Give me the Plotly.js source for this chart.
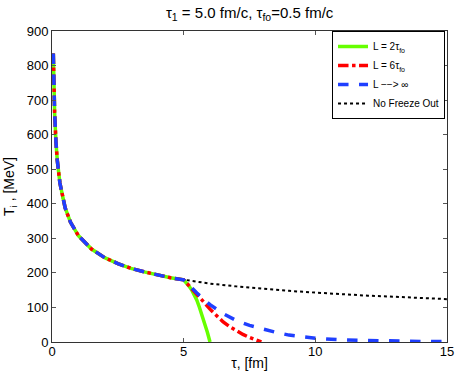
<!DOCTYPE html>
<html>
<head>
<meta charset="utf-8">
<script src="https://cdn.plot.ly/plotly-3.0.1.min.js"></script>
<style>html,body{margin:0;padding:0;background:#fff}#chart{width:458px;height:377px}</style>
</head>
<body>
<div id="chart"></div>
<script>
// Shared early-time cooling (before tau_1 = 5 fm/c)
const tauEarly = [0.05, 0.06, 0.08, 0.1, 0.15, 0.2, 0.3, 0.4, 0.5, 0.7, 1.0, 1.5, 2, 2.5, 3, 3.5, 4, 4.5, 5];
const tEarly   = [835, 786, 714, 663, 579, 526, 460, 418, 388, 347, 308, 269, 244, 227, 213, 203, 194, 186, 180];

// L = 2 tau_fo
const tauL2 = [5.1, 5.2, 5.3, 5.4, 5.5, 5.6, 5.7, 5.8, 5.9, 6.0];
const tL2   = [172, 162, 151, 138, 121, 100, 78, 54, 28, 0];

// L = 6 tau_fo
const tauL6 = [5.25, 5.5, 5.75, 6.0, 6.25, 6.5, 6.75, 7.0, 7.25, 7.5, 7.75, 7.95];
const tL6   = [160, 140, 117, 95, 76, 58, 44, 32, 22, 13, 6, 0];

// L -> infinity
const tauLinf = [5.25, 5.5, 5.75, 6, 6.5, 7, 7.5, 8, 8.5, 9, 10, 11, 12, 13, 14, 15];
const tLinf   = [160, 142, 124, 108, 82, 62, 48, 37, 28, 20, 11, 6, 4, 2.5, 1.5, 1];

// No freeze out
const tauNoFO = [5.5, 6, 7, 8, 9, 10, 11, 12, 13, 14, 15];
const tNoFO   = [174, 169, 161, 154, 148, 143, 138, 134, 131, 128, 124];

const traces = [
  {x: tauEarly.concat(tauNoFO), y: tEarly.concat(tNoFO), mode: 'lines', name: 'No Freeze Out',
   line: {color: '#000000', width: 2, dash: 'dot'}, legendrank: 4},
  {x: tauEarly.concat(tauL2), y: tEarly.concat(tL2), mode: 'lines', name: 'L = 2τ<sub>fo</sub>',
   line: {color: '#66ff00', width: 3.5, dash: 'solid'}, legendrank: 1},
  {x: tauEarly.concat(tauL6), y: tEarly.concat(tL6), mode: 'lines', name: 'L = 6τ<sub>fo</sub>',
   line: {color: '#ff0000', width: 3.5, dash: 'dashdot'}, legendrank: 2},
  {x: tauEarly.concat(tauLinf), y: tEarly.concat(tLinf), mode: 'lines', name: 'L −−> ∞',
   line: {color: '#1f3fff', width: 3.5, dash: 'dash'}, legendrank: 3}
];

const layout = {
  width: 458, height: 377,
  margin: {l: 52, r: 11, t: 31, b: 35},
  paper_bgcolor: '#fff', plot_bgcolor: '#fff',
  font: {family: 'Liberation Sans, Arial, sans-serif', size: 13, color: '#000'},
  title: {text: 'τ<sub>1</sub> = 5.0 fm/c, τ<sub>fo</sub>=0.5 fm/c', x: 0.545, xanchor: 'center', y: 0.98, yanchor: 'top',
          font: {size: 15, color: '#000'}},
  xaxis: {range: [0, 15], tickvals: [0, 5, 10, 15], ticks: 'inside', ticklen: 4, tickcolor: '#555',
          ticklabelstandoff: -3,
          showline: true, linecolor: '#333', linewidth: 1, mirror: 'ticks', showgrid: false, zeroline: false,
          title: {text: 'τ, [fm]', standoff: 0, font: {size: 14}}},
  yaxis: {range: [0, 900], dtick: 100, ticks: 'inside', ticklen: 4, tickcolor: '#555',
          showline: true, linecolor: '#333', linewidth: 1, mirror: 'ticks', showgrid: false, zeroline: false,
          title: {text: 'T<sub>i</sub> , [MeV]', standoff: 8, font: {size: 14}}},
  legend: {x: 0.995, xanchor: 'right', y: 1.0, yanchor: 'top', bgcolor: '#fff', bordercolor: '#000', borderwidth: 1,
           font: {size: 10}, itemwidth: 30, tracegroupgap: 0, traceorder: 'normal'},
  showlegend: true
};

Plotly.newPlot('chart', traces, layout, {displayModeBar: false, staticPlot: true});
</script>
</body>
</html>
